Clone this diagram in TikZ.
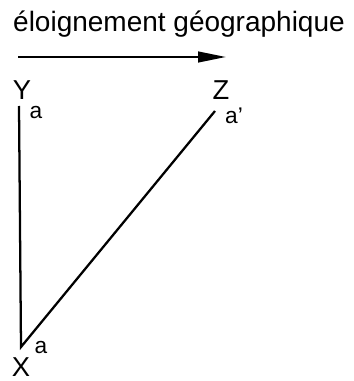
\documentclass[tikz,border=0pt]{standalone}
\usepackage{fontspec}
\setmainfont{Liberation Sans}
\usetikzlibrary{positioning, arrows.meta, calc}

\begin{document}
\begin{tikzpicture}[x=0.75pt, y=-0.75pt, >={Stealth[inset=0pt,length=21pt,width=8pt]}]
    % Styles
    \tikzstyle{title} = [inner sep=0pt, font=\fontsize{21}{24}\selectfont]
    \tikzstyle{point} = [inner sep=0pt, font=\fontsize{20.5}{24}\selectfont]
    \tikzstyle{mark label} = [inner sep=0pt, font=\fontsize{17}{20}\selectfont]
    \tikzstyle{edge} = [line width=1.7pt]

    \useasboundingbox (0,0) rectangle (353,381);

    % Nodes
    \node [title] (heading) at (179,24) {éloignement géographique};
    \node [point] (Y) at (22,90) {Y};
    \node [point] (Z) at (221,90) {Z};
    \node [point] (X) at (21,367) {X};
    \node [mark label] (aY) at (36,113) {a};
    \node [mark label] (aZ) at (234,116) {a'};
    \node [mark label] (aX) at (41,348) {a};

    \coordinate (arrowstart) at (18,57);
    \coordinate (arrowend) at (226,57);
    \coordinate (ytop) at (19,106);
    \coordinate (vertex) at (21,347);
    \coordinate (ztop) at (215,111);

    % Arrows
    \draw [->, edge] (arrowstart) -- (arrowend);
    \draw [edge] (ytop) -- (vertex) -- (ztop);
\end{tikzpicture}
\end{document}
